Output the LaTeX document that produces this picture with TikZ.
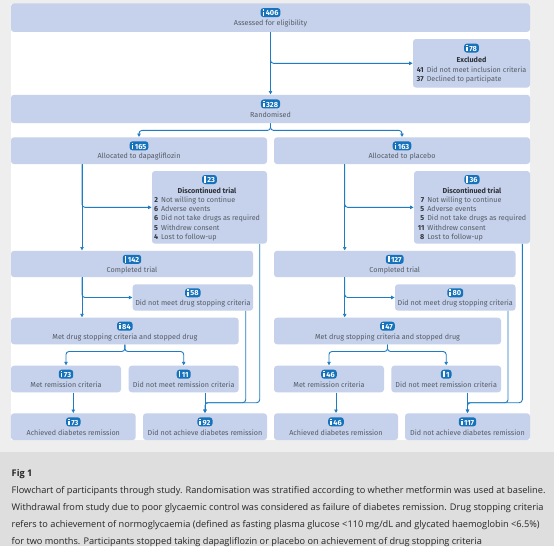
\documentclass[tikz,border=0pt]{standalone}
\usepackage{fontspec}
\setmainfont{Fira Sans}
\newfontfamily\captionfont{Open Sans}
\usetikzlibrary{arrows.meta}
\definecolor{boxblue}{HTML}{C6D2EB}
\definecolor{linkblue}{HTML}{1F7CC2}
\definecolor{badgeblue}{HTML}{1672BA}
\definecolor{labelgrey}{HTML}{555B66}
\definecolor{headgrey}{HTML}{2E323A}
\definecolor{pagegrey}{HTML}{EEEEEE}
\definecolor{capgrey}{HTML}{DEDEDE}
\tikzset{
  flowbox/.style={fill=boxblue, rounded corners=3pt, inner sep=0pt, align=center,
    text=labelgrey, font=\fontsize{7.2}{9.1}\selectfont},
  countbadge/.style={fill=badgeblue, rounded corners=2.8pt, inner xsep=2pt, inner ysep=0pt,
    minimum height=9pt, text=white, font=\fontsize{7.4}{8}\selectfont\bfseries},
  flowline/.style={draw=linkblue, line width=0.9pt, rounded corners=3pt},
  flowarrow/.style={flowline, -{Latex[length=3.6pt,width=4pt]}},
}
% one blank row leaves room for the badge
\newcommand{\flowlab}[1]{\rule{0pt}{9pt}\\\rule[-1.5pt]{0pt}{1.5pt}#1}
\newcommand{\pers}{\rule{1.7pt}{4.2pt}\kern-1.7pt\raisebox{4.9pt}{\rule{1.7pt}{1.6pt}}\kern1.5pt}
\newcommand{\reasons}[2]{\begin{tabular}{@{}r@{\hspace{3pt}}l@{}}
  \multicolumn{2}{c}{}\\[5pt]
  \multicolumn{2}{c}{\color{headgrey}\bfseries #1}\\[0.4pt]
  #2
\end{tabular}}
\newcommand{\nm}[1]{{\color{headgrey}\bfseries #1}}
\begin{document}
\begin{tikzpicture}[x=1pt,y=-1pt]
  \useasboundingbox (0,0) rectangle (554,546);
  \fill[pagegrey] (0,0) rectangle (554,546);
  \fill[white] (11,3.5) rectangle (530,440);
  \fill[capgrey] (0,452) rectangle (554,546);

  % top of the chart
  \node[flowbox, minimum width=519pt, minimum height=28.5pt] (assess) at (270.5,17.7) {\flowlab{Assessed for eligibility}};
  \node[flowbox, minimum width=117pt, minimum height=48.6pt] (excl) at (471.5,63.3) {\reasons{Excluded}{\nm{41} & Did not meet inclusion criteria\\ \nm{37} & Declined to participate}};
  \node[flowbox, minimum width=519pt, minimum height=28.4pt] (random) at (270.5,109) {\flowlab{Randomised}};

  % dapagliflozin arm
  \node[flowbox, minimum width=256pt, minimum height=26.7pt] (allocl) at (139,150.7) {\flowlab{Allocated to dapagliflozin}};
  \node[flowbox, minimum width=115pt, minimum height=72.7pt] (discl) at (209.5,207.35) {\reasons{Discontinued trial}{\nm{2} & Not willing to continue\\ \nm{6} & Adverse events\\ \nm{6} & Did not take drugs as required\\ \nm{5} & Withdrew consent\\ \nm{4} & Lost to follow-up}\hspace*{5pt}};
  \node[flowbox, minimum width=242pt, minimum height=26.4pt] (compl) at (132,264) {\flowlab{Completed trial}};
  \node[flowbox, minimum width=120.3pt, minimum height=26.4pt] (stopl) at (192.85,297.5) {\flowlab{Did not meet drug stopping criteria}};
  \node[flowbox, minimum width=227.7pt, minimum height=26.6pt] (metl) at (124.85,331) {\flowlab{Met drug stopping criteria and stopped drug}};
  \node[flowbox, minimum width=110pt, minimum height=26.6pt] (yesl) at (66,379) {\flowlab{Met remission criteria}};
  \node[flowbox, minimum width=110pt, minimum height=26.6pt] (nol) at (183.7,379) {\flowlab{Did not meet remission criteria}};
  \node[flowbox, minimum width=124.7pt, minimum height=26.7pt] (achl) at (73.3,426.7) {\flowlab{Achieved diabetes remission}};
  \node[flowbox, minimum width=124pt, minimum height=26.7pt] (notl) at (205,426.7) {\flowlab{Did not achieve diabetes remission}};

  % placebo arm
  \node[flowbox, minimum width=256pt, minimum height=26.7pt] (allocr) at (402,150.7) {\flowlab{Allocated to placebo}};
  \node[flowbox, minimum width=116pt, minimum height=72.7pt] (discr) at (472,207.35) {\reasons{Discontinued trial}{\nm{7} & Not willing to continue\\ \nm{5} & Adverse events\\ \nm{5} & Did not take drugs as required\\ \nm{11} & Withdrew consent\\ \nm{8} & Lost to follow-up}};
  \node[flowbox, minimum width=241.5pt, minimum height=26.4pt] (compr) at (394.75,264) {\flowlab{Completed trial}};
  \node[flowbox, minimum width=120.5pt, minimum height=26.4pt] (stopr) at (455.25,297.5) {\flowlab{Did not meet drug stopping criteria}};
  \node[flowbox, minimum width=227pt, minimum height=26.6pt] (metr) at (387.5,331) {\flowlab{Met drug stopping criteria and stopped drug}};
  \node[flowbox, minimum width=110pt, minimum height=26.6pt] (yesr) at (329,379) {\flowlab{Met remission criteria}};
  \node[flowbox, minimum width=109.7pt, minimum height=26.6pt] (nor) at (446.2,379) {\flowlab{Did not meet remission criteria}};
  \node[flowbox, minimum width=124pt, minimum height=26.7pt] (achr) at (336,426.7) {\flowlab{Achieved diabetes remission}};
  \node[flowbox, minimum width=125pt, minimum height=26.7pt] (notr) at (467.5,426.7) {\flowlab{Did not achieve diabetes remission}};

  % counts
  \node[countbadge] (nassess) at ([yshift=-9.3pt]assess.north) {\pers 406};
  \node[countbadge] (nexcl) at ([yshift=-9.3pt]excl.north) {\pers 78};
  \node[countbadge] (nrandom) at ([yshift=-9.3pt]random.north) {\pers 328};
  \node[countbadge] (nallocl) at ([yshift=-8.7pt]allocl.north) {\pers 165};
  \node[countbadge] (ndiscl) at ([yshift=-8.7pt]discl.north) {\pers 23};
  \node[countbadge] (ncompl) at ([yshift=-8.7pt]compl.north) {\pers 142};
  \node[countbadge] (nstopl) at ([yshift=-8.7pt]stopl.north) {\pers 58};
  \node[countbadge] (nmetl) at ([yshift=-8.7pt]metl.north) {\pers 84};
  \node[countbadge] (nyesl) at ([yshift=-8.7pt]yesl.north) {\pers 73};
  \node[countbadge] (nnol) at ([yshift=-8.7pt]nol.north) {\pers 11};
  \node[countbadge] (nachl) at ([yshift=-8.7pt]achl.north) {\pers 73};
  \node[countbadge] (nnotl) at ([yshift=-8.7pt]notl.north) {\pers 92};
  \node[countbadge] (nallocr) at ([yshift=-8.7pt]allocr.north) {\pers 163};
  \node[countbadge] (ndiscr) at ([yshift=-8.7pt]discr.north) {\pers 36};
  \node[countbadge] (ncompr) at ([yshift=-8.7pt]compr.north) {\pers 127};
  \node[countbadge] (nstopr) at ([yshift=-8.7pt]stopr.north) {\pers 80};
  \node[countbadge] (nmetr) at ([yshift=-8.7pt]metr.north) {\pers 47};
  \node[countbadge] (nyesr) at ([yshift=-8.7pt]yesr.north) {\pers 46};
  \node[countbadge] (nnor) at ([yshift=-8.7pt]nor.north) {\pers 1};
  \node[countbadge] (nachr) at ([yshift=-8.7pt]achr.north) {\pers 46};
  \node[countbadge] (nnotr) at ([yshift=-8.7pt]notr.north) {\pers 117};

  % x positions of the vertical runs
  \coordinate (runl) at (82,0);
  \coordinate (runr) at (344.7,0);
  \coordinate (discdownl) at (259.7,0);
  \coordinate (stopdownl) at (245.7,0);
  \coordinate (discdownr) at (522.3,0);
  \coordinate (stopdownr) at (508,0);
  \coordinate (mergel) at (0,402.7);
  \coordinate (merger) at (0,402.7);

  \draw[flowarrow] (assess.south) -- (random.north);
  \draw[flowarrow] (assess.south) |- (excl.west);
  \draw[flowarrow] (random.south) -- ++(0,7) -| (allocl.north);
  \draw[flowarrow] (random.south) -- ++(0,7) -| (allocr.north);

  \draw[flowarrow] (allocl.south -| runl) -- (compl.north -| runl);
  \draw[flowarrow] (allocl.south -| runl) |- (discl.west);
  \draw[flowarrow] (compl.south -| runl) -- (metl.north -| runl);
  \draw[flowarrow] (compl.south -| runl) |- (stopl.west);
  \draw[flowarrow] (metl.south) -- ++(0,7) -| (yesl.north);
  \draw[flowarrow] (metl.south) -- ++(0,7) -| (nol.north);
  \draw[flowarrow] (yesl.south -| achl.north) -- (achl.north);
  \draw[flowarrow] (nol.south -| notl.north) -- (notl.north);
  \draw[flowarrow] (discl.south -| discdownl) |- (mergel -| notl.north) -- (notl.north);
  \draw[flowline] (stopl.south -| stopdownl) |- (mergel -| notl.north);

  \draw[flowarrow] (allocr.south -| runr) -- (compr.north -| runr);
  \draw[flowarrow] (allocr.south -| runr) |- (discr.west);
  \draw[flowarrow] (compr.south -| runr) -- (metr.north -| runr);
  \draw[flowarrow] (compr.south -| runr) |- (stopr.west);
  \draw[flowarrow] (metr.south) -- ++(0,7) -| (yesr.north);
  \draw[flowarrow] (metr.south) -- ++(0,7) -| (nor.north);
  \draw[flowarrow] (yesr.south -| achr.north) -- (achr.north);
  \draw[flowarrow] (nor.south -| notr.north) -- (notr.north);
  \draw[flowarrow] (discr.south -| discdownr) |- (merger -| notr.north) -- (notr.north);
  \draw[flowline] (stopr.south -| stopdownr) |- (merger -| notr.north);

  % caption under the chart
  \node[anchor=north west, inner sep=0pt, align=left, text=black!85, font=\captionfont\fontsize{9.2}{17}\selectfont] (figcap) at (11.5,469) {{\bfseries Fig 1}\\
  Flowchart of participants through study. Randomisation was stratified according to whether metformin was used at baseline.\\
  Withdrawal from study due to poor glycaemic control was considered as failure of diabetes remission. Drug stopping criteria\\
  refers to achievement of normoglycaemia (defined as fasting plasma glucose <110 mg/dL and glycated haemoglobin <6.5\%)\\
  for two months. Participants stopped taking dapagliflozin or placebo on achievement of drug stopping criteria};
\end{tikzpicture}
\end{document}
